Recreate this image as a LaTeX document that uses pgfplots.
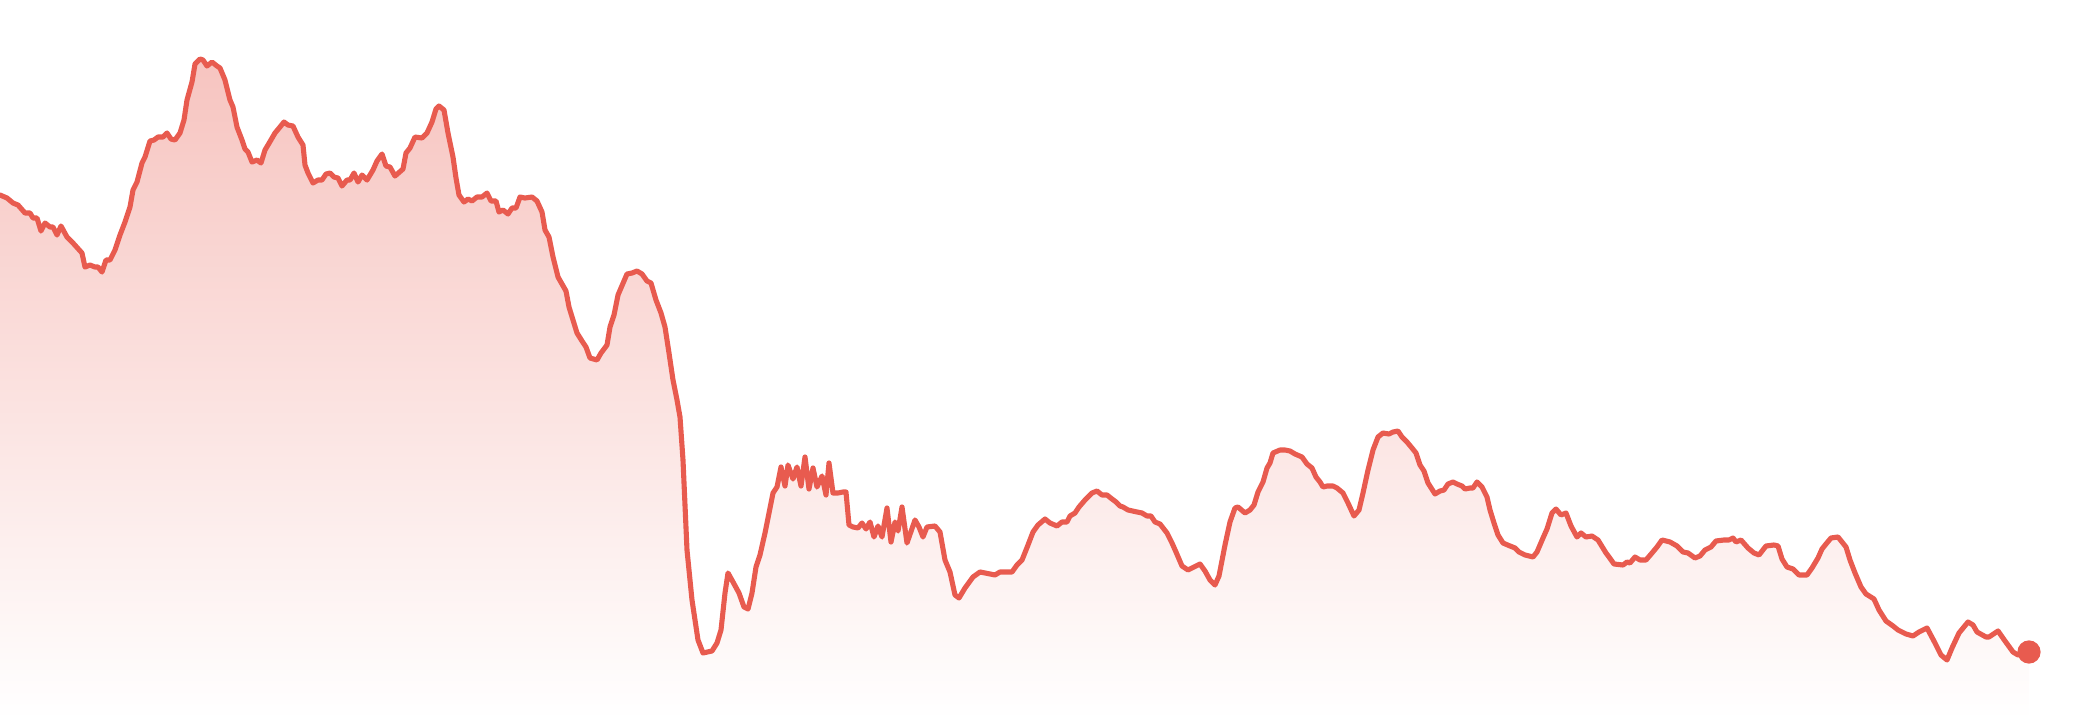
\documentclass[border=0pt]{standalone}
\usepackage{pgfplots}
\usepackage{pgfplotstable}
\pgfplotsset{compat=1.18}
\definecolor{linec}{HTML}{E85B4F}

% x and y (y counted from the top)
\pgfplotstableread{
x y
0 195
7 198
13 203
18 205
25 213
30 213
33 218
37 218
41 231
45 223
50 227
53 227
57 235
61 226
67 237
73 243
82 253
85 267
90 265
95 267
98 267
102 272
106 260
110 260
115 250
120 235
125 222
130 207
133 190
137 182
142 163
145 157
150 141
154 140
158 137
163 137
167 133
171 139
175 140
180 133
184 120
187 100
192 82
195 64
200 59
203 60
207 66
212 62
217 66
220 68
225 80
230 100
233 107
237 127
242 140
245 149
248 152
252 162
257 160
261 163
265 150
268 145
275 133
280 127
284 122
288 125
293 126
298 137
303 145
305 165
308 173
313 183
318 180
322 180
326 174
330 173
334 177
338 178
342 186
347 180
350 180
354 173
358 182
362 175
367 180
373 170
377 161
382 154
386 166
390 167
395 176
403 169
406 153
410 148
415 137
422 138
427 133
432 122
436 109
439 106
444 110
448 133
453 157
456 178
459 195
464 202
468 199
472 201
477 197
482 197
487 193
491 201
496 201
499 212
503 210
508 214
512 208
516 208
520 197
525 198
532 197
537 201
542 212
545 230
549 237
553 257
558 277
562 284
566 291
569 307
573 320
577 333
582 341
586 347
590 358
597 360
601 353
607 345
610 327
614 315
618 295
627 274
632 273
637 271
642 274
647 281
651 283
656 300
661 313
665 327
669 353
673 380
677 400
680 417
683 460
687 550
692 600
698 640
703 653
712 651
717 643
721 630
725 593
728 573
733 582
739 593
744 607
748 609
752 593
756 567
760 555
765 533
769 513
773 493
777 487
781 467
785 486
788 465
793 479
797 467
801 486
805 457
809 489
813 468
817 487
822 476
826 495
829 463
833 493
838 493
843 492
846 492
849 525
853 527
858 528
862 523
866 529
870 522
874 537
878 526
882 537
887 508
891 542
895 522
898 531
902 507
907 543
915 520
919 527
923 537
927 527
935 526
940 532
945 560
950 572
955 595
959 598
965 588
973 577
980 572
995 575
1000 572
1012 572
1017 565
1022 560
1028 545
1033 532
1038 525
1045 519
1050 523
1057 526
1062 522
1067 522
1070 516
1075 513
1079 507
1085 500
1092 493
1097 491
1102 495
1107 495
1112 499
1116 502
1120 506
1123 507
1128 510
1137 512
1142 513
1147 516
1151 516
1155 522
1160 524
1167 533
1172 543
1176 552
1182 566
1188 570
1194 567
1200 564
1205 571
1210 580
1215 585
1219 576
1225 545
1230 522
1235 508
1238 507
1245 513
1250 510
1254 505
1258 492
1263 482
1267 468
1270 463
1273 453
1280 450
1285 450
1290 451
1295 454
1302 457
1307 464
1312 468
1316 477
1320 482
1323 487
1327 486
1333 486
1337 488
1343 493
1348 503
1354 516
1359 510
1363 493
1368 470
1373 450
1378 437
1383 433
1389 434
1393 432
1398 431
1402 437
1407 442
1412 448
1416 453
1420 465
1424 471
1428 483
1435 494
1440 491
1444 490
1448 484
1453 482
1457 484
1462 486
1465 489
1470 488
1473 488
1477 482
1482 487
1487 497
1490 510
1494 523
1498 535
1503 543
1510 546
1515 548
1519 552
1525 555
1533 557
1537 552
1543 538
1547 529
1552 513
1556 509
1561 515
1566 513
1571 526
1577 537
1581 533
1586 537
1592 536
1598 540
1606 553
1609 557
1614 564
1623 565
1627 562
1630 563
1635 557
1640 560
1646 560
1652 553
1657 547
1662 540
1670 542
1677 546
1683 552
1688 553
1695 558
1700 556
1705 550
1711 547
1716 541
1724 540
1729 540
1733 538
1736 542
1741 540
1748 548
1754 553
1759 555
1766 546
1774 545
1778 546
1782 559
1787 567
1793 569
1799 575
1807 575
1812 568
1818 558
1822 549
1826 544
1831 538
1838 537
1846 547
1850 560
1855 573
1861 587
1866 594
1874 599
1879 610
1886 621
1893 626
1898 630
1906 634
1913 636
1919 632
1927 628
1935 643
1941 655
1947 660
1952 648
1959 633
1968 622
1973 625
1977 632
1986 637
1989 637
1998 631
2005 641
2013 652
2018 655
2029 652
}\pricedata

\begin{document}
\begin{tikzpicture}
\begin{axis}[
    at={(0,0)}, anchor=south west,
    width=20.8cm, height=7.2cm,
    scale only axis,
    hide axis,
    xmin=0, xmax=2080,
    ymin=0, ymax=720,
    y dir=reverse,
]
% area under the line, fading to white
\addplot[draw=none, top color=linec!36!white, bottom color=white]
    table {\pricedata} -- (axis cs:2029,720) -- (axis cs:0,720) -- cycle;
\addplot[linec, line width=1.45pt, line join=round, line cap=round]
    table {\pricedata};
\addplot[only marks, mark=*, mark size=3.1pt, color=linec,
    mark options={fill=linec}]
    coordinates {(2029,652)};
\end{axis}
\pgfresetboundingbox
\path (0,0) rectangle (20.8cm,7.2cm);
\end{tikzpicture}
\end{document}
